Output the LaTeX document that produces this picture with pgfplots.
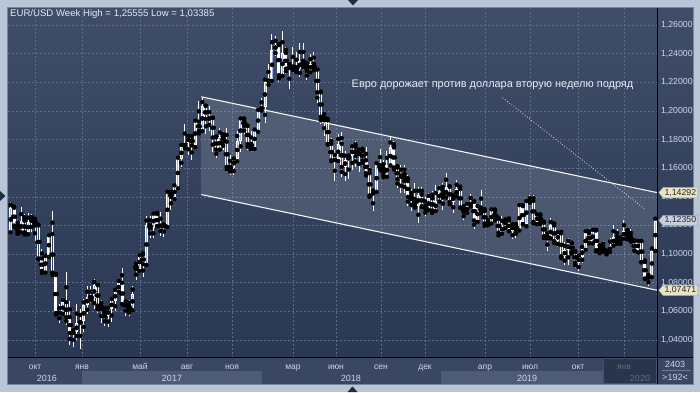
\documentclass[border=0pt]{standalone}
\usepackage{fontspec}
\setmainfont{Liberation Sans}
\usepackage{pgfplots}
\pgfplotsset{compat=1.18}
\usepackage{pgfplotstable}
\usetikzlibrary{shapes.symbols}

\definecolor{bgtop}{RGB}{64,77,105}
\definecolor{bgbot}{RGB}{43,56,84}
\definecolor{frame}{RGB}{186,198,214}
\definecolor{framedark}{RGB}{120,134,158}
\definecolor{gridc}{RGB}{92,108,138}
\definecolor{band}{RGB}{58,71,98}
\definecolor{bandlight}{RGB}{78,91,118}
\definecolor{lbl}{RGB}{205,216,234}
\definecolor{upin}{RGB}{160,182,222}
\definecolor{cream}{RGB}{232,228,198}
\definecolor{creamdraw}{RGB}{150,150,130}
\definecolor{grayb}{RGB}{200,208,222}
\definecolor{graybdraw}{RGB}{140,150,165}
\definecolor{tri}{RGB}{30,44,70}
\definecolor{box20}{RGB}{32,42,64}
\definecolor{box20line}{RGB}{70,82,108}
\definecolor{sepline}{RGB}{110,124,150}
\definecolor{titlec}{RGB}{228,234,244}
\definecolor{notec}{RGB}{232,237,246}
\definecolor{mtext}{RGB}{40,40,40}

% weekly EUR/USD candles, w = weeks from 3 Oct 2016
\pgfplotstableread{
w o h l c
-7 1.1160 1.1366 1.1146 1.1324
-6 1.1324 1.1341 1.1186 1.1199
-5 1.1199 1.1240 1.1122 1.1155
-4 1.1155 1.1327 1.1150 1.1233
-3 1.1233 1.1283 1.1121 1.1152
-2 1.1152 1.1284 1.1124 1.1226
-1 1.1226 1.1278 1.1154 1.1240
0 1.1240 1.1255 1.1091 1.1200
1 1.1200 1.1212 1.0960 1.0970
2 1.0970 1.1039 1.0852 1.0883
3 1.0883 1.0990 1.0860 1.0985
4 1.0985 1.1124 1.0975 1.1140
5 1.1140 1.1300 1.0889 1.0854
6 1.0854 1.0870 1.0568 1.0589
7 1.0589 1.0655 1.0518 1.0587
8 1.0587 1.0700 1.0580 1.0664
9 1.0664 1.0874 1.0505 1.0560
10 1.0560 1.0670 1.0366 1.0450
11 1.0450 1.0485 1.0352 1.0455
12 1.0455 1.0653 1.0400 1.0517
13 1.0517 1.0620 1.0340 1.0530
14 1.0530 1.0685 1.0454 1.0643
15 1.0643 1.0776 1.0580 1.0700
16 1.0700 1.0775 1.0660 1.0696
17 1.0696 1.0829 1.0619 1.0782
18 1.0782 1.0790 1.0590 1.0640
19 1.0640 1.0680 1.0520 1.0615
20 1.0615 1.0630 1.0495 1.0565
21 1.0565 1.0630 1.0493 1.0620
22 1.0620 1.0700 1.0525 1.0672
23 1.0672 1.0760 1.0600 1.0740
24 1.0740 1.0825 1.0735 1.0800
25 1.0800 1.0905 1.0650 1.0650
26 1.0650 1.0690 1.0570 1.0640
27 1.0640 1.0680 1.0570 1.0615
28 1.0615 1.0780 1.0605 1.0725
29 1.0920 1.0950 1.0820 1.0895
30 1.0895 1.0990 1.0870 1.0995
31 1.0995 1.1020 1.0840 1.0930
32 1.0930 1.1265 1.0920 1.1205
33 1.1205 1.1268 1.1110 1.1180
34 1.1180 1.1285 1.1110 1.1280
35 1.1280 1.1295 1.1195 1.1195
36 1.1195 1.1295 1.1130 1.1200
37 1.1200 1.1215 1.1120 1.1195
38 1.1195 1.1445 1.1185 1.1425
39 1.1425 1.1445 1.1310 1.1400
40 1.1400 1.1490 1.1370 1.1470
41 1.1470 1.1680 1.1450 1.1665
42 1.1665 1.1775 1.1610 1.1750
43 1.1750 1.1910 1.1730 1.1775
44 1.1775 1.1830 1.1690 1.1820
45 1.1820 1.1830 1.1660 1.1760
46 1.1760 1.1940 1.1735 1.1925
47 1.1925 1.2070 1.1825 1.1860
48 1.1860 1.2090 1.1860 1.2035
49 1.2035 1.2040 1.1840 1.1945
50 1.1945 1.2035 1.1860 1.1950
51 1.1950 1.1955 1.1715 1.1815
52 1.1815 1.1830 1.1670 1.1730
53 1.1730 1.1880 1.1730 1.1820
54 1.1820 1.1860 1.1730 1.1785
55 1.1785 1.1880 1.1575 1.1610
56 1.1610 1.1690 1.1550 1.1605
57 1.1605 1.1670 1.1555 1.1665
58 1.1665 1.1860 1.1630 1.1790
59 1.1790 1.1960 1.1715 1.1935
60 1.1935 1.1960 1.1830 1.1895
61 1.1895 1.1900 1.1730 1.1770
62 1.1770 1.1860 1.1715 1.1750
63 1.1750 1.1880 1.1720 1.1860
64 1.1860 1.2010 1.1850 1.2005
65 1.2005 1.2090 1.2000 1.2030
66 1.2030 1.2240 1.1915 1.2200
67 1.2200 1.2325 1.2165 1.2220
68 1.2220 1.2535 1.2200 1.2425
69 1.2425 1.2520 1.2385 1.2460
70 1.2460 1.2475 1.2205 1.2250
71 1.2250 1.2555 1.2240 1.2405
72 1.2405 1.2450 1.2260 1.2295
73 1.2295 1.2350 1.2155 1.2310
74 1.2310 1.2445 1.2270 1.2305
75 1.2305 1.2410 1.2255 1.2290
76 1.2290 1.2475 1.2240 1.2350
77 1.2350 1.2475 1.2285 1.2325
78 1.2325 1.2345 1.2215 1.2280
79 1.2280 1.2395 1.2260 1.2330
80 1.2330 1.2415 1.2280 1.2290
81 1.2290 1.2290 1.2055 1.2130
82 1.2130 1.2140 1.1910 1.1960
83 1.1960 1.1995 1.1825 1.1935
84 1.1935 1.1955 1.1760 1.1770
85 1.1770 1.1810 1.1645 1.1655
86 1.1655 1.1725 1.1510 1.1660
87 1.1660 1.1840 1.1640 1.1770
88 1.1770 1.1850 1.1540 1.1610
89 1.1610 1.1720 1.1510 1.1655
90 1.1655 1.1690 1.1525 1.1685
91 1.1685 1.1760 1.1590 1.1745
92 1.1745 1.1790 1.1610 1.1685
93 1.1685 1.1740 1.1575 1.1720
94 1.1720 1.1750 1.1615 1.1655
95 1.1655 1.1745 1.1530 1.1565
96 1.1565 1.1610 1.1390 1.1410
97 1.1410 1.1450 1.1300 1.1440
98 1.1440 1.1650 1.1430 1.1620
99 1.1620 1.1735 1.1580 1.1600
100 1.1600 1.1655 1.1525 1.1550
101 1.1550 1.1720 1.1530 1.1625
102 1.1625 1.1815 1.1615 1.1745
103 1.1745 1.1790 1.1575 1.1605
104 1.1605 1.1625 1.1460 1.1525
105 1.1525 1.1620 1.1430 1.1560
106 1.1560 1.1620 1.1430 1.1510
107 1.1510 1.1550 1.1335 1.1400
108 1.1400 1.1455 1.1300 1.1385
109 1.1385 1.1500 1.1315 1.1335
110 1.1335 1.1470 1.1215 1.1415
111 1.1415 1.1470 1.1325 1.1335
112 1.1335 1.1400 1.1265 1.1315
113 1.1315 1.1425 1.1300 1.1390
114 1.1390 1.1440 1.1270 1.1305
115 1.1305 1.1485 1.1300 1.1370
116 1.1370 1.1485 1.1365 1.1440
117 1.1440 1.1500 1.1310 1.1395
118 1.1395 1.1570 1.1395 1.1470
119 1.1470 1.1480 1.1330 1.1365
120 1.1365 1.1415 1.1290 1.1410
121 1.1410 1.1515 1.1400 1.1455
122 1.1455 1.1490 1.1325 1.1325
123 1.1325 1.1345 1.1235 1.1295
124 1.1295 1.1370 1.1280 1.1335
125 1.1335 1.1420 1.1330 1.1365
126 1.1365 1.1375 1.1175 1.1235
127 1.1235 1.1345 1.1215 1.1325
128 1.1325 1.1450 1.1270 1.1300
129 1.1300 1.1325 1.1180 1.1215
130 1.1215 1.1255 1.1185 1.1218
131 1.1218 1.1325 1.1210 1.1300
132 1.1300 1.1325 1.1225 1.1245
133 1.1245 1.1265 1.1110 1.1150
134 1.1150 1.1265 1.1135 1.1200
135 1.1200 1.1250 1.1160 1.1235
136 1.1235 1.1265 1.1160 1.1160
137 1.1160 1.1215 1.1105 1.1205
138 1.1205 1.1215 1.1115 1.1170
139 1.1170 1.1350 1.1160 1.1335
140 1.1335 1.1350 1.1210 1.1210
141 1.1210 1.1370 1.1180 1.1370
142 1.1370 1.1410 1.1350 1.1372
143 1.1372 1.1410 1.1205 1.1225
144 1.1225 1.1285 1.1195 1.1270
145 1.1270 1.1285 1.1200 1.1220
146 1.1220 1.1235 1.1100 1.1125
147 1.1125 1.1165 1.1025 1.1110
148 1.1110 1.1250 1.1110 1.1200
149 1.1200 1.1230 1.1065 1.1090
150 1.1090 1.1160 1.1050 1.1145
151 1.1145 1.1165 1.0960 1.0985
152 1.0985 1.1085 1.0925 1.1030
153 1.1030 1.1110 1.0925 1.1075
154 1.1075 1.1085 1.0990 1.1015
155 1.1015 1.1025 1.0905 1.0940
156 1.0940 1.1000 1.0880 1.0980
157 1.0980 1.1060 1.0940 1.1040
158 1.1040 1.1175 1.1020 1.1145
159 1.1145 1.1180 1.1070 1.1080
160 1.1080 1.1175 1.1070 1.1165
161 1.1165 1.1175 1.1035 1.1020
162 1.1020 1.1070 1.0990 1.1050
163 1.1050 1.1095 1.1015 1.1020
164 1.1020 1.1030 1.0980 1.1015
165 1.1015 1.1115 1.1015 1.1060
166 1.1060 1.1200 1.1060 1.1120
167 1.1120 1.1175 1.1065 1.1080
168 1.1080 1.1120 1.1065 1.1115
169 1.1115 1.1240 1.1100 1.1165
170 1.1165 1.1170 1.1085 1.1120
171 1.1120 1.1175 1.1085 1.1090
172 1.1090 1.1100 1.1025 1.1025
173 1.1025 1.1095 1.1000 1.1090
174 1.1090 1.1095 1.0940 1.0945
175 1.0945 1.0965 1.0825 1.0830
176 1.0830 1.0865 1.0778 1.0845
177 1.0845 1.1055 1.0835 1.1025
178 1.1030 1.1260 1.1015 1.1235
}\fx

\pgfplotsset{
  /pgfplots/error bars/draw error bar/.code 2 args={\draw #1 -- #2;},
  candle/.style={only marks, mark=none, forget plot, unbounded coords=discard,
    error bars/.cd, y dir=both, y explicit, error mark=none,
    error bar style={#1}},
}

\begin{document}
\begin{tikzpicture}[x=1pt,y=1pt]
% outer frame and panels
\fill[frame] (0,0) rectangle (700,392);
\shade[top color=bgtop, bottom color=bgbot] (8,34.5) rectangle (693,384);
\fill[band] (8,8) rectangle (693,34.5);
\fill[bandlight] (82,8.5) rectangle (262,21);
\fill[bandlight] (441,8.5) rectangle (603,21);

\begin{axis}[
  at={(8pt,34.5pt)}, anchor=south west,
  scale only axis, width=649pt, height=349.5pt,
  xmin=-7.75, xmax=178.48, ymin=1.0278, ymax=1.2719,
  axis line style={draw=none},
  major tick length=0pt, tick style={draw=none},
  xtick={0,13.49,30.13,43.62,56.53,74.03,86.37,99.28,111.91,129.13,142.04,155.81,169.01},
  xticklabels={окт,янв,май,авг,ноя,мар,июн,сен,дек,апр,июл,окт,янв},
  extra x ticks={3.44,39.31,90.67,141.18,173.6},
  extra x tick labels={2016,2017,2018,2019,2020},
  extra x tick style={grid=none, xticklabel style={yshift=-12pt, font=\fontsize{9}{10}\selectfont}},
  ytick={1.04,1.06,1.08,1.10,1.12,1.14,1.16,1.18,1.20,1.22,1.24,1.26},
  yticklabel pos=right,
  /pgf/number format/assume math mode=true,
  yticklabel={\pgfmathprintnumber[fixed,fixed zerofill,precision=5,use comma]{\tick}},
  yticklabel style={font=\fontsize{8.75}{10}\selectfont, color=lbl, xshift=0.5pt},
  xticklabel style={font=\fontsize{8.5}{10}\selectfont, color=lbl, anchor=base, yshift=-11.5pt},
  xmajorgrids, ymajorgrids,
  grid style={dash pattern=on 2pt off 2pt, color=gridc, line width=0.6pt},
]
% channel
\addplot[draw=none, fill=white, fill opacity=0.12, forget plot]
  coordinates {(47.7,1.2099) (178.6,1.14292) (178.6,1.07471) (47.7,1.1416)};
\addplot[color=white!92!gray, line width=1.1pt, forget plot]
  coordinates {(47.7,1.2099) (178.6,1.14292)};
\addplot[color=white!92!gray, line width=1.1pt, forget plot]
  coordinates {(47.7,1.1416) (178.6,1.07471)};
% dotted pointer
\addplot[color=white!80!gridc, line width=0.8pt, dash pattern=on 0.8pt off 2pt, forget plot]
  coordinates {(134.2,1.2092) (175.3,1.1309)};
% upper and lower wicks
\addplot[candle={draw=white, line width=1pt}]
  table[x=w, y expr={(\thisrow{h}+max(\thisrow{o},\thisrow{c}))/2},
        y error expr={(\thisrow{h}-max(\thisrow{o},\thisrow{c}))/2}] {\fx};
\addplot[candle={draw=white, line width=1pt}]
  table[x=w, y expr={(\thisrow{l}+min(\thisrow{o},\thisrow{c}))/2},
        y error expr={(min(\thisrow{o},\thisrow{c})-\thisrow{l})/2}] {\fx};
% rising weeks: white outline, light blue interior
\addplot[candle={draw=white, line width=3pt}]
  table[x=w, y expr={(\thisrow{c}>\thisrow{o}) ? (\thisrow{o}+\thisrow{c})/2 : nan},
        y error expr={max(abs(\thisrow{c}-\thisrow{o})/2,0.0006)}] {\fx};
\addplot[candle={draw=upin, line width=0.8pt}]
  table[x=w, y expr={(\thisrow{c}>\thisrow{o}) ? (\thisrow{o}+\thisrow{c})/2 : nan},
        y error expr={max(abs(\thisrow{c}-\thisrow{o})/2-0.0008,0)}] {\fx};
% falling weeks: hollow white outline
\addplot[candle={draw=white, line width=1.15pt}]
  table[x expr={\thisrow{w}-0.265}, y expr={(\thisrow{c}>\thisrow{o}) ? nan : (\thisrow{o}+\thisrow{c})/2},
        y error expr={max(abs(\thisrow{c}-\thisrow{o})/2,0.0003)}] {\fx};
\addplot[candle={draw=white, line width=1.15pt}]
  table[x expr={\thisrow{w}+0.265}, y expr={(\thisrow{c}>\thisrow{o}) ? nan : (\thisrow{o}+\thisrow{c})/2},
        y error expr={max(abs(\thisrow{c}-\thisrow{o})/2,0.0003)}] {\fx};
\addplot[candle={draw=white, line width=3pt}]
  table[x=w, y expr={(\thisrow{c}>\thisrow{o}) ? nan : \thisrow{o}}, y error expr={0.0004}] {\fx};
\addplot[candle={draw=white, line width=3pt}]
  table[x=w, y expr={(\thisrow{c}>\thisrow{o}) ? nan : \thisrow{c}}, y error expr={0.0004}] {\fx};
\coordinate (m1) at (axis cs:178.48,1.14292);
\coordinate (m2) at (axis cs:178.48,1.12350);
\coordinate (m3) at (axis cs:178.48,1.07471);
\end{axis}

% separators and frame
\draw[black, line width=1pt] (657,8) -- (657,384);
\draw[black, line width=1pt] (8,34.5) -- (693,34.5);
\draw[framedark, line width=0.8pt] (7.5,7.6) rectangle (693,384.4);
% 2020 shaded box in the date band
\fill[box20, opacity=0.62] (603,9) rectangle (656.3,34);
\draw[box20line, line width=0.6pt] (603,9) rectangle (656.3,34);
% bottom-right box
\node[font=\fontsize{9}{10}\selectfont, text=lbl] at (675,27.5) {2403};
\node[font=\fontsize{9}{10}\selectfont, text=lbl] at (675,15) {>192<};
\draw[sepline, line width=0.5pt] (662,21.3) -- (691,21.3);

% title and annotation
\node[anchor=west, font=\fontsize{9.6}{11}\selectfont, text=titlec, inner sep=0pt] at (10,377.6) {EUR/USD Week High = 1,25555 Low = 1,03385};
\node[anchor=west, font=\fontsize{10.95}{12}\selectfont, text=notec, inner sep=0pt] at (351.5,307) {Евро дорожает против доллара вторую неделю подряд};

% price markers
\node[signal, signal to=west, signal pointer angle=100, fill=cream, draw=creamdraw, line width=0.3pt,
  font=\fontsize{8.75}{10}\selectfont, text=mtext, inner xsep=1.5pt, inner ysep=1.6pt, anchor=west]
  at ([xshift=1.5pt]m1) {1,14292};
\node[signal, signal to=west, signal pointer angle=100, fill=grayb, draw=graybdraw, line width=0.3pt,
  font=\fontsize{8.75}{10}\selectfont, text=mtext, inner xsep=1.5pt, inner ysep=1.6pt, anchor=west]
  at ([xshift=1.5pt]m2) {1,12350};
\node[signal, signal to=west, signal pointer angle=100, fill=cream, draw=creamdraw, line width=0.3pt,
  font=\fontsize{8.75}{10}\selectfont, text=mtext, inner xsep=1.5pt, inner ysep=1.6pt, anchor=west]
  at ([xshift=1.5pt]m3) {1,07471};

% small navigation triangles
\fill[tri] (348,392) -- (358,392) -- (353,386.5) -- cycle;
\fill[tri] (347.5,0) -- (357.5,0) -- (352.5,5.5) -- cycle;
\fill[tri] (0,191) -- (0,201) -- (5.5,196) -- cycle;
\end{tikzpicture}
\end{document}
